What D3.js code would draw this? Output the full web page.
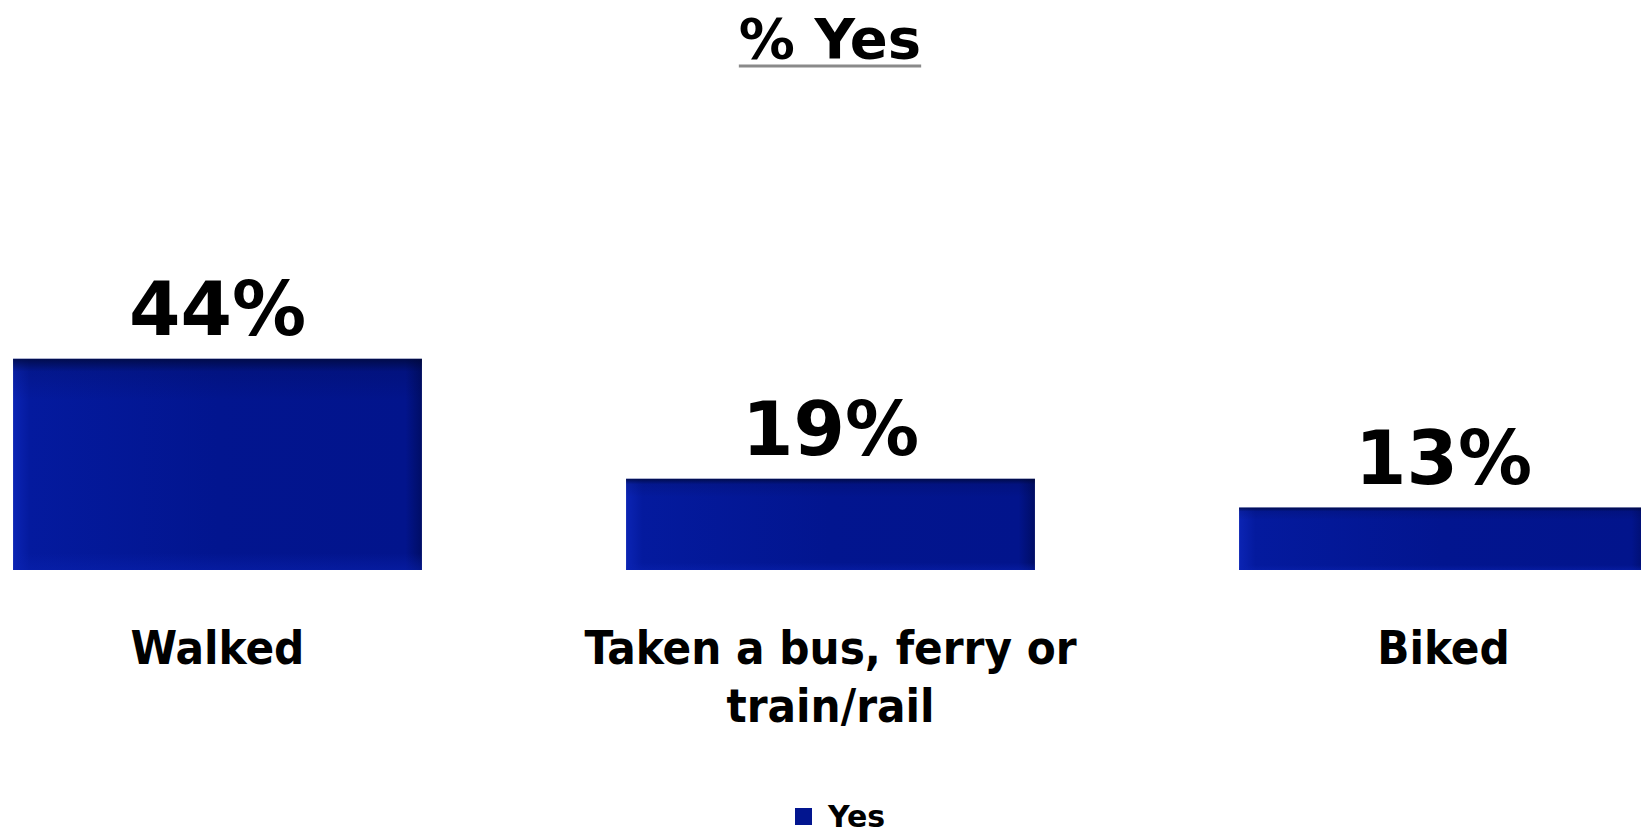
<!DOCTYPE html>
<html>
<head>
<meta charset="utf-8">
<script src="https://cdn.jsdelivr.net/npm/d3@7"></script>
<style>
  html, body { margin: 0; padding: 0; background: #ffffff; }
  svg { display: block; }
</style>
</head>
<body>
<svg id="chart" width="1641" height="833"></svg>
<script>
const categories = ["Walked", "Taken a bus, ferry or train/rail", "Biked"];
const values = [44, 19, 13];
const valueLabels = ["44%", "19%", "13%"];
const seriesName = "Yes";
const chartTitle = "% Yes";

const W = 1641, H = 833;
const svg = d3.select("#chart");

const defs = svg.append("defs");
const gH = defs.append("linearGradient").attr("id", "barH").attr("x1", "0").attr("x2", "1").attr("y1", "0").attr("y2", "0");
gH.append("stop").attr("offset", "0%").attr("stop-color", "#0b24b4");
gH.append("stop").attr("offset", "4%").attr("stop-color", "#041a9e");
gH.append("stop").attr("offset", "50%").attr("stop-color", "#02158f");
gH.append("stop").attr("offset", "96%").attr("stop-color", "#02148c");
gH.append("stop").attr("offset", "100%").attr("stop-color", "#000d66");
const gV = defs.append("linearGradient").attr("id", "barV").attr("x1", "0").attr("x2", "0").attr("y1", "0").attr("y2", "1");
gV.append("stop").attr("offset", "0%").attr("stop-color", "#000833").attr("stop-opacity", 0.75);
gV.append("stop").attr("offset", "6%").attr("stop-color", "#000833").attr("stop-opacity", 0.15);
gV.append("stop").attr("offset", "20%").attr("stop-color", "#000833").attr("stop-opacity", 0);
gV.append("stop").attr("offset", "92%").attr("stop-color", "#0a22b0").attr("stop-opacity", 0);
gV.append("stop").attr("offset", "100%").attr("stop-color", "#0a22b0").attr("stop-opacity", 0.5);

const x = d3.scaleBand()
  .domain(categories)
  .range([-89, -89 + 3 * 613])
  .paddingInner(0.333)
  .paddingOuter(0.1665);

const y = d3.scaleLinear().domain([0, 100]).range([570, 90]);

const data = categories.map((c, i) => ({ c, v: values[i], label: valueLabels[i] }));

// Title
const title = svg.append("text")
  .attr("x", 830).attr("y", 58)
  .attr("text-anchor", "middle")
  .attr("font-family", "'DejaVu Sans', Verdana, sans-serif")
  .attr("font-weight", "bold")
  .attr("font-size", 56)
  .attr("fill", "#000")
  .text(chartTitle);
const tb = title.node().getBBox();
svg.append("line")
  .attr("x1", tb.x).attr("x2", tb.x + tb.width)
  .attr("y1", 66).attr("y2", 66)
  .attr("stroke", "#8a8a8a").attr("stroke-width", 3);

// Bars
const bars = svg.append("g");
bars.selectAll("rect.bar").data(data).join("rect")
  .attr("class", "bar")
  .attr("x", d => x(d.c))
  .attr("y", d => y(d.v))
  .attr("width", x.bandwidth())
  .attr("height", d => y(0) - y(d.v))
  .attr("fill", "url(#barH)");
bars.selectAll("rect.shade").data(data).join("rect")
  .attr("class", "shade")
  .attr("x", d => x(d.c))
  .attr("y", d => y(d.v))
  .attr("width", x.bandwidth())
  .attr("height", d => y(0) - y(d.v))
  .attr("fill", "url(#barV)");

// Value labels
svg.append("g").selectAll("text").data(data).join("text")
  .attr("x", d => x(d.c) + x.bandwidth() / 2)
  .attr("y", d => y(d.v) - 24)
  .attr("text-anchor", "middle")
  .attr("font-family", "'DejaVu Sans', Verdana, sans-serif")
  .attr("font-weight", "bold")
  .attr("font-size", 74)
  .attr("fill", "#000")
  .text(d => d.label);

// Category labels (wrapped)
const catG = svg.append("g");
data.forEach(d => {
  const t = catG.append("text")
    .attr("x", x(d.c) + x.bandwidth() / 2)
    .attr("y", 664)
    .attr("text-anchor", "middle")
    .attr("font-family", "'DejaVu Sans Condensed', 'DejaVu Sans', sans-serif")
    .attr("font-weight", "bold")
    .attr("font-size", 47)
    .attr("fill", "#000");
  const words = d.c.split(" ");
  let line = [];
  let tspan = t.append("tspan").attr("x", x(d.c) + x.bandwidth() / 2).attr("dy", 0);
  words.forEach(w => {
    line.push(w);
    tspan.text(line.join(" "));
    if (tspan.node().getComputedTextLength() > 520 && line.length > 1) {
      line.pop();
      tspan.text(line.join(" "));
      line = [w];
      tspan = t.append("tspan").attr("x", x(d.c) + x.bandwidth() / 2).attr("dy", 58).text(w);
    }
  });
});

// Legend
const leg = svg.append("g");
leg.append("rect").attr("x", 795).attr("y", 808).attr("width", 17).attr("height", 17).attr("fill", "#02158f");
leg.append("text").attr("x", 828).attr("y", 827)
  .attr("font-family", "'DejaVu Sans', Verdana, sans-serif")
  .attr("font-weight", "bold").attr("font-size", 30).attr("fill", "#000")
  .text(seriesName);
</script>
</body>
</html>
